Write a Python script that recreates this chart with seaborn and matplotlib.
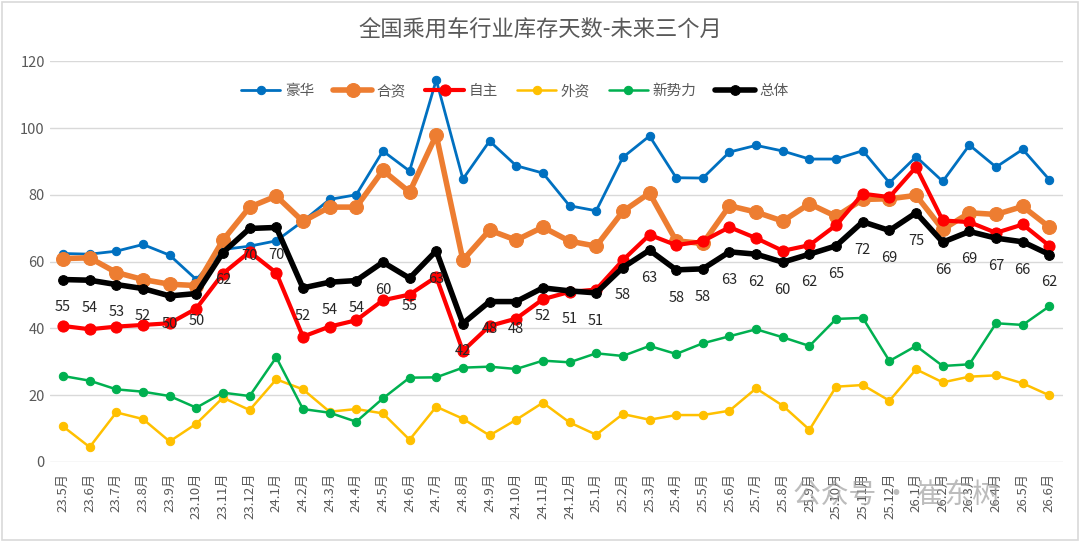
import numpy as np
import pandas as pd
import matplotlib.pyplot as plt
import seaborn as sns

sns.set_theme(style="white")
plt.rcParams['font.family'] = ['Noto Sans CJK SC', 'DejaVu Sans']

# months 23.5 .. 26.6
months = ([f"23.{m}月" for m in range(5, 13)] + [f"24.{m}月" for m in range(1, 13)]
          + [f"25.{m}月" for m in range(1, 13)] + [f"26.{m}月" for m in range(1, 7)])

luxury = [62.4, 62.2, 63.1, 65.1, 61.9, 54.6, 63.6, 64.6, 66.2, 72.1, 78.6, 80.0, 93.1,
          87.1, 114.4, 84.7, 96.1, 88.7, 86.5, 76.7, 75.2, 91.2, 97.6, 85.1, 85.0, 92.8,
          94.8, 93.1, 90.7, 90.7, 93.2, 83.6, 91.4, 84.0, 94.9, 88.3, 93.6, 84.5]
jv = [60.9, 61.1, 56.7, 54.6, 53.2, 52.8, 66.4, 76.3, 79.6, 72.0, 76.3, 76.3, 87.3,
      80.8, 97.9, 60.4, 69.4, 66.4, 70.3, 66.1, 64.6, 75.0, 80.5, 66.2, 65.4, 76.7,
      74.8, 72.1, 77.3, 73.5, 78.6, 78.8, 79.8, 69.6, 74.6, 74.1, 76.5, 70.3]
domestic = [40.7, 39.7, 40.5, 41.0, 41.5, 45.9, 56.4, 62.9, 56.6, 37.5, 40.5, 42.4, 48.4,
            50.1, 55.4, 33.2, 40.7, 42.9, 48.7, 50.9, 51.6, 60.4, 68.0, 64.9, 66.1, 70.3,
            67.0, 63.2, 64.9, 70.9, 80.3, 79.3, 88.3, 72.3, 71.8, 68.6, 71.1, 64.7]
foreign = [10.6, 4.4, 14.8, 12.8, 6.1, 11.4, 19.2, 15.5, 24.7, 21.7, 15.0, 15.8, 14.5,
           6.6, 16.5, 12.9, 7.9, 12.6, 17.7, 11.8, 8.1, 14.3, 12.6, 14.0, 14.0, 15.3,
           22.0, 16.8, 9.6, 22.5, 23.0, 18.3, 27.7, 23.8, 25.5, 25.9, 23.5, 19.9]
new_forces = [25.7, 24.3, 21.7, 21.0, 19.7, 16.2, 20.7, 19.7, 31.3, 15.8, 14.7, 12.0, 19.0,
              25.2, 25.3, 28.2, 28.5, 27.8, 30.3, 29.8, 32.5, 31.7, 34.7, 32.3, 35.5, 37.6,
              39.7, 37.3, 34.7, 42.8, 43.1, 30.2, 34.7, 28.7, 29.2, 41.5, 41.0, 46.6]
total = [54.6, 54.4, 53.1, 51.9, 49.7, 50.4, 62.7, 69.9, 70.2, 52.1, 53.8, 54.3, 59.8,
         55.0, 63.2, 41.4, 48.0, 48.0, 52.1, 51.2, 50.6, 58.2, 63.4, 57.5, 57.8, 62.9,
         62.2, 59.8, 62.2, 64.7, 71.9, 69.3, 74.6, 65.8, 69.0, 67.0, 65.9, 62.1]
total_labels = [55, 54, 53, 52, 50, 50, 62, 70, 70, 52, 54, 54, 60, 55, 63, 42, 48, 48,
                52, 51, 51, 58, 63, 58, 58, 63, 62, 60, 62, 65, 72, 69, 75, 66, 69, 67, 66, 62]

series = [
    ("豪华", luxury, "#0070C0", 2.0, 6),
    ("合资", jv, "#ED7D31", 4.0, 10),
    ("自主", domestic, "#FF0000", 3.0, 8),
    ("外资", foreign, "#FFC000", 1.8, 6),
    ("新势力", new_forces, "#00B050", 1.8, 6),
    ("总体", total, "#000000", 4.0, 7),
]

fig, ax = plt.subplots(figsize=(10.8, 5.42), dpi=100)
fig.subplots_adjust(left=0.046, right=0.984, top=0.887, bottom=0.148)

x = np.arange(len(months))
for name, vals, color, lw, ms in series:
    sns.lineplot(x=x, y=vals, ax=ax, color=color, linewidth=lw, marker="o",
                 markersize=ms, markeredgecolor=color, label=name)

# data labels for total
for xi, v, lab in zip(x, total, total_labels):
    ax.annotate(str(lab), (xi, v), xytext=(0, -20), textcoords="offset points",
                ha="center", va="center", fontsize=10.5, color="#262626")

ax.set_xlim(-0.5, len(months) - 0.5)
ax.set_ylim(0, 120)
ax.set_yticks(range(0, 121, 20))
ax.set_xticks(x)
ax.set_xticklabels(months, rotation=90, fontsize=9.5, color="#595959")
ax.tick_params(axis="y", labelsize=10.5, labelcolor="#595959", length=0)
ax.tick_params(axis="x", length=0, pad=8)
ax.yaxis.grid(True, color="#D9D9D9", linewidth=1)
ax.set_axisbelow(True)
for s in ax.spines.values():
    s.set_visible(False)

fig.suptitle("全国乘用车行业库存天数-未来三个月", x=0.5, y=0.945, va="center",
             fontsize=16, color="#595959")

leg = ax.legend(loc="center", bbox_to_anchor=(0.459, 0.925), ncol=6, frameon=False,
                fontsize=10.5, handlelength=2.7, handletextpad=0.3, columnspacing=1.3)
for t in leg.get_texts():
    t.set_color("#595959")

# watermark
fig.text(0.83, 0.085, "公众号 · 崔东树", fontsize=20, color="#A0A0A0", alpha=0.7,
         ha="center", va="center")

fig.patches.append(plt.Rectangle((0.002, 0.004), 0.996, 0.992, transform=fig.transFigure,
                                 fill=False, edgecolor="#D9D9D9", linewidth=1.2))

fig.savefig("out.png", dpi=100)
